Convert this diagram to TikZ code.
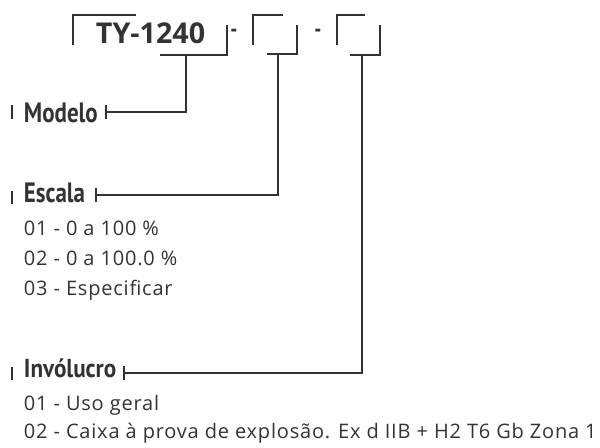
\documentclass[tikz,border=0pt]{standalone}
\usepackage{fontspec}
\setmainfont{Open Sans}
\newfontfamily\condfont[FakeStretch=0.82]{PT Sans}
\newfontfamily\headfont[FakeStretch=0.89]{PT Sans}
\newfontfamily\itemfont[LetterSpace=4]{Open Sans}
\usepackage{xcolor}
\usetikzlibrary{arrows.meta, positioning}
\definecolor{ink}{HTML}{333333}

\begin{document}
\begin{tikzpicture}[
  x=0.75pt, y=-0.75pt,
  line width=1.4pt, draw=ink, text=ink,
  title/.style={font=\bfseries\fontsize{21.5}{24}\selectfont, inner sep=0pt, anchor=base west},
  head/.style={font=\condfont\bfseries\fontsize{21}{24}\selectfont, inner sep=0pt, anchor=base west},
  item/.style={font=\itemfont\fontsize{15}{18}\selectfont, inner sep=0pt, anchor=base west},
  dashmark/.style={font=\condfont\bfseries\fontsize{18}{20}\selectfont, inner sep=0pt},
  arr/.style={-{Bar[width=11pt, line width=1.4pt]}, line width=1.4pt},
  tick/.style={line width=1.4pt}
]
  \useasboundingbox (0,0) rectangle (600,447);

  % code field
  \node[title] (code) at (95,43) {TY-1240};
  \draw (73,45) -- (73,15) -- (136,15);
  \draw (160,55) -- (227,55) -- (227,25);
  \node[dashmark] (d1) at (234,33) {-};
  \draw (253,45) -- (253,15) -- (283,15);
  \draw (267,54) -- (297,54) -- (297,25);
  \node[dashmark] (d2) at (318,33) {-};
  \draw (337,45) -- (337,15) -- (365,15);
  \draw (350,55) -- (380,55) -- (380,25);

  \coordinate (b1) at (186,55);
  \coordinate (b2) at (278,54);
  \coordinate (b3) at (362,55);

  % headers
  \node[head] (modelo) at (23,122) {Modelo};
  \node[head] (escala) at (23,202) {Escala};
  \node[head, font=\headfont\bfseries\fontsize{19.5}{22}\selectfont] (invol) at (23,377) {Invólucro};

  \coordinate (e1) at (105,112);
  \coordinate (e2) at (95,195);
  \coordinate (e3) at (123,373);

  \draw[tick] (12,105) -- (12,119);
  \draw[tick] (12,191) -- (12,204);
  \draw[tick] (12,367) -- (12,380);

  % options
  \node[item] (s1) at (23,235) {01 - 0 a 100 \%};
  \node[item] (s2) at (23,265) {02 - 0 a 100.0 \%};
  \node[item] (s3) at (23,295) {03 - Especificar};
  \node[item] (i1) at (23,410) {01 - Uso geral};
  \node[item] (i2) at (23,438) {02 - Caixa à prova de explosão. Ex d IIB + H2 T6 Gb Zona 1};

  % connectors
  \draw[arr] (b1) |- (e1);
  \draw[arr] (b2) |- (e2);
  \draw[arr] (b3) |- (e3);
\end{tikzpicture}
\end{document}
